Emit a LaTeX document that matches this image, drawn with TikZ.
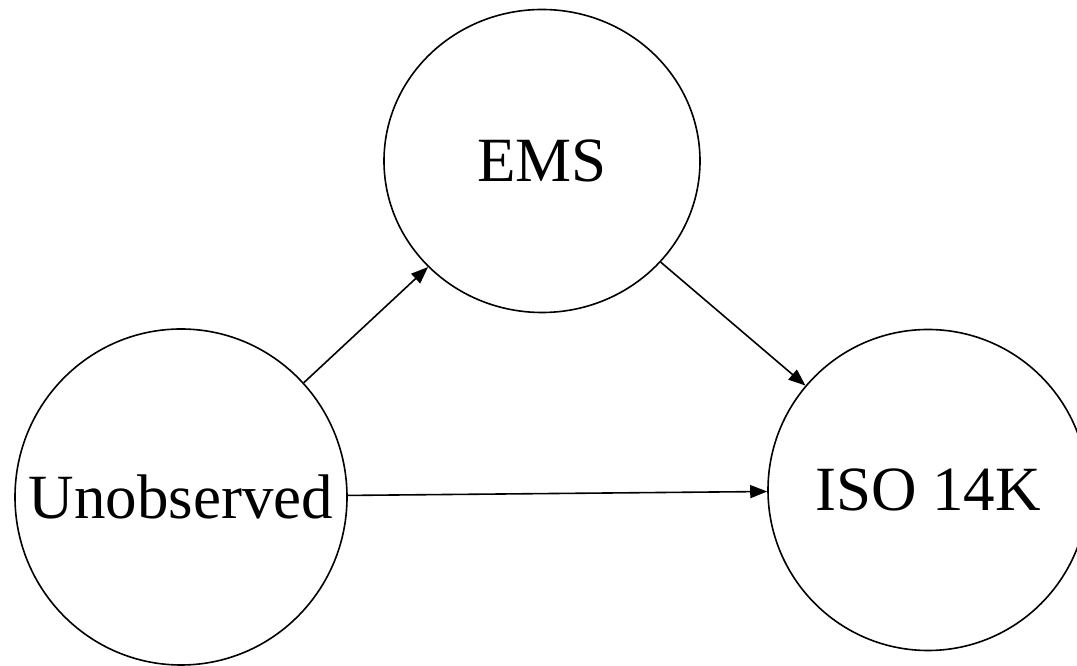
\documentclass[tikz,border=0pt]{standalone}
\usepackage{fontspec}
\setmainfont{Liberation Serif}
\usetikzlibrary{shapes.geometric,arrows.meta}
\begin{document}
\begin{tikzpicture}[x=1pt,y=1pt,
  var/.style={ellipse,draw,line width=1.6pt,inner sep=0pt,
    label={[font=\fontsize{63}{75}\selectfont,inner sep=0pt]center:#1}},
  link/.style={line width=1.6pt,-{Triangle[length=17pt,width=13pt]}}]
\useasboundingbox (0,0) rectangle (1077,666);
\node[var=EMS,minimum width=316pt,minimum height=303pt] (ems) at (542,505) {};
\node[var=Unobserved,minimum width=332pt,minimum height=336pt] (unob) at (181,169) {};
\node[var=ISO 14K,minimum width=320pt,minimum height=321pt] (iso) at (928,176) {};
\draw[link] (unob) -- (ems);
\draw[link] (ems) -- (iso);
\draw[link] (unob) -- (iso);
\end{tikzpicture}
\end{document}
